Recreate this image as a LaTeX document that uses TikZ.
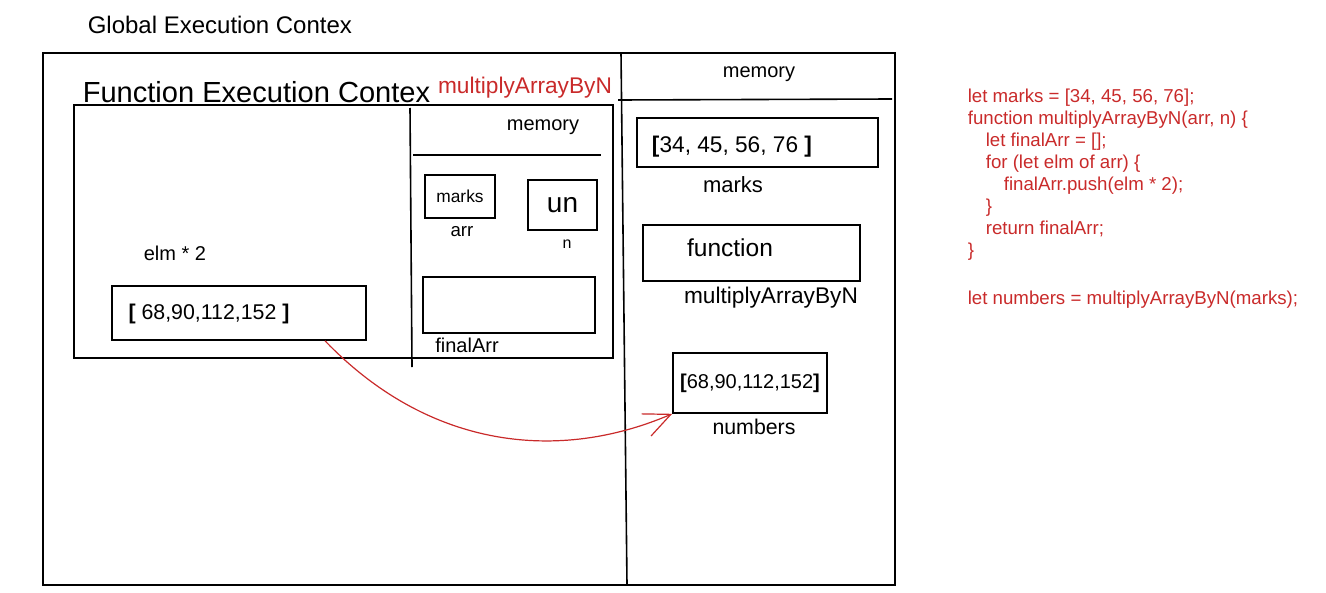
\documentclass[tikz,border=0pt]{standalone}
\usepackage{fontspec}
\setmainfont{Liberation Sans}
\usetikzlibrary{arrows.meta}
\definecolor{codered}{RGB}{201,42,42}
\newcommand{\handsize}[1]{\fontsize{#1}{#1}\selectfont}

\begin{document}
\begin{tikzpicture}[x=0.75pt,y=-0.75pt,line width=1.2pt]
    \tikzstyle{frame}=[draw,rectangle,inner sep=0pt]
    \tikzstyle{annot}=[inner sep=0pt]
    \tikzstyle{code}=[inner sep=0pt,text=codered]
    \useasboundingbox (0,0) rectangle (1326,592);

    % Draw the global context and its memory column
    \node[annot,anchor=west,font=\handsize{18}] (gec) at (87,25) {Global Execution Contex};
    \node[frame,minimum width=639pt,minimum height=399pt] (G) at (469,319) {};
    \draw (621,53) -- (627,585);
    \draw (618,100) -- (892,99);
    \node[annot,font=\handsize{15}] (gmem) at (759,74) {memory};

    % Draw the function context
    \node[annot,anchor=west,font=\handsize{21.8}] (fec) at (82,92) {Function Execution Contex};
    \node[annot,text=codered,font=\handsize{17}] (fname) at (525,88) {multiplyArrayByN};
    \node[frame,minimum width=404.25pt,minimum height=189.75pt] (F) at (343.5,231.5) {};
    \draw (410,108) -- (412,367);
    \draw (413,155) -- (601,155);
    \node[annot,font=\handsize{15}] (fmem) at (543,127) {memory};

    % Draw the function memory
    \node[frame,minimum width=52.5pt,minimum height=32.25pt,font=\handsize{13}] (arr) at (460,196.5) {marks};
    \node[annot,font=\handsize{14}] at (462,232) {arr};
    \node[frame,minimum width=51.75pt,minimum height=37.5pt,font=\handsize{21}] (n) at (562.5,205) {un};
    \node[annot,font=\handsize{12}] at (567,244) {n};
    \node[frame,minimum width=129pt,minimum height=42pt] (fin) at (509,305) {};
    \node[annot,font=\handsize{15}] at (467,345) {finalArr};

    % Draw the running code of the function
    \node[annot,font=\handsize{15}] (elm) at (175,253) {elm * 2};
    \node[frame,minimum width=190.5pt,minimum height=40.5pt] (res) at (239,313) {};
    \node[annot,font=\handsize{16}] at (209,314) {\textbf{[}\ 68,90,112,152\ \textbf{]}};

    % Draw the global memory
    \node[frame,minimum width=180.75pt,minimum height=36.75pt] (marks) at (757.5,142.5) {};
    \node[annot,font=\handsize{17}] at (732,147) {\textbf{[}34, 45, 56, 76 \textbf{]}};
    \node[annot,font=\handsize{16.5}] at (733,185) {marks};
    \node[frame,minimum width=162.75pt,minimum height=42pt] (fn) at (751.5,253) {};
    \node[annot,font=\handsize{18.4}] at (730,248) {function};
    \node[annot,font=\handsize{17}] at (771,298) {multiplyArrayByN};
    \node[frame,minimum width=115.5pt,minimum height=45pt,font=\handsize{15}] (nums) at (750,383) {\textbf{[}68,90,112,152\textbf{]}};
    \node[annot,font=\handsize{16}] at (754,427) {numbers};

    % Return value goes to numbers
    \draw[codered,line width=0.9pt,-{Straight Barb[length=20pt,width=18pt]}]
        ([xshift=64.5pt]res.south) .. controls (430,450) and (560,462) .. (nums.south west);

    % Draw the source code
    \node[code,anchor=north west,align=left,font=\fontsize{14}{16.5}\selectfont] (src) at (967,88.5) {%
        let marks = [34, 45, 56, 76];\\
        function multiplyArrayByN(arr, n) \{\\
        \hspace*{13.5pt}let finalArr = [];\\
        \hspace*{13.5pt}for (let elm of arr) \{\\
        \hspace*{27pt}finalArr.push(elm * 2);\\
        \hspace*{13.5pt}\}\\
        \hspace*{13.5pt}return finalArr;\\
        \}\\[19.5pt]
        let numbers = multiplyArrayByN(marks);};
\end{tikzpicture}
\end{document}
